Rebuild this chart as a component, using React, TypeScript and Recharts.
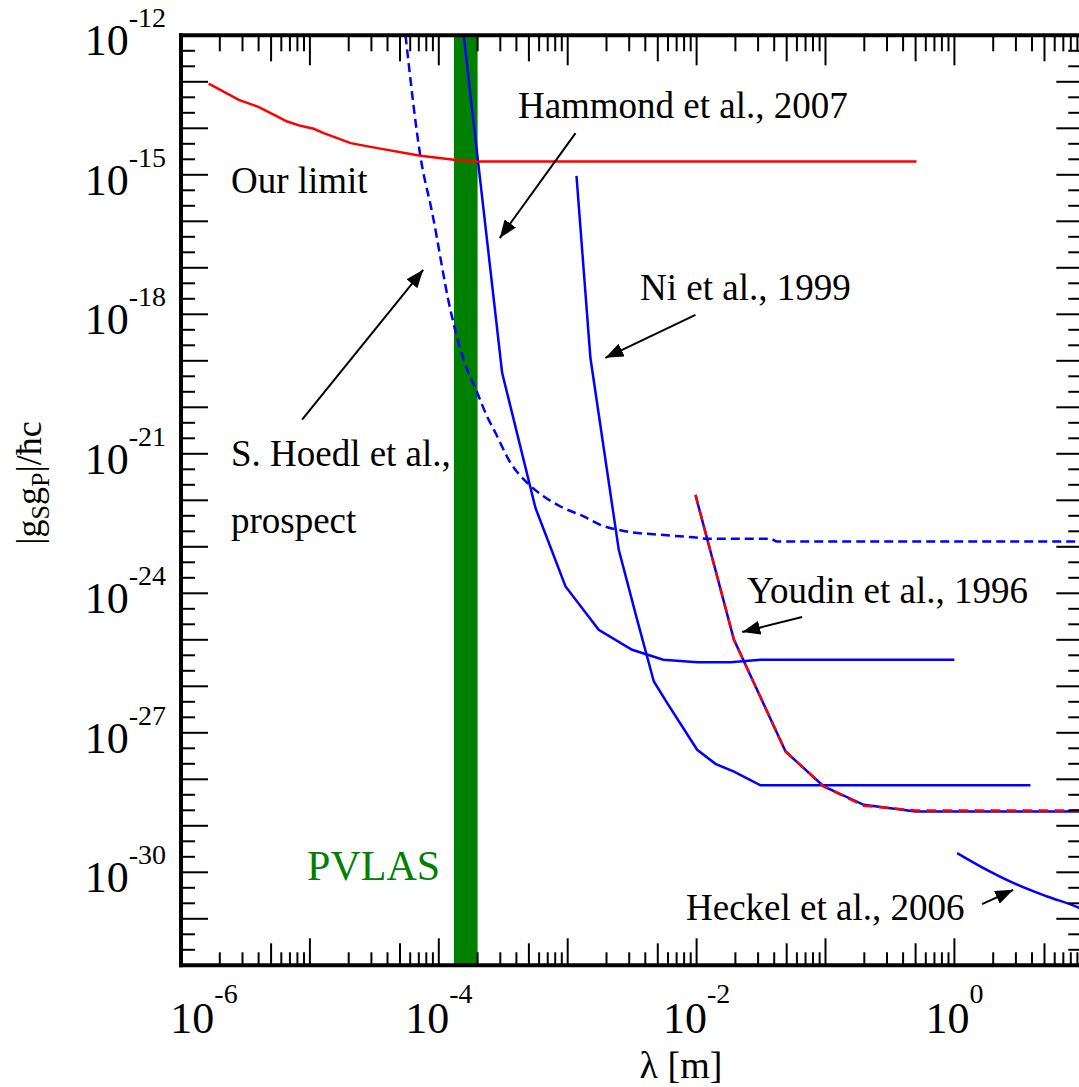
import {
  LineChart,
  Line,
  XAxis,
  YAxis,
  ReferenceArea,
  ReferenceLine,
  ReferenceDot,
} from "recharts";

type Pt = { x: number; y: number };

const SERIF = '"Liberation Serif", "Times New Roman", Times, serif';

// limits, lambda [m] vs |gS gP|/hbar c
const OUR_LIMIT: Pt[] = [
  { x: 1.64e-6, y: 9.1e-14 },
  { x: 2.81e-6, y: 4.1e-14 },
  { x: 4.02e-6, y: 2.86e-14 },
  { x: 6.67e-6, y: 1.4e-14 },
  { x: 8.45e-6, y: 1.13e-14 },
  { x: 1.07e-5, y: 9.75e-15 },
  { x: 1.28e-5, y: 7.9e-15 },
  { x: 2.07e-5, y: 4.8e-15 },
  { x: 3.33e-5, y: 3.75e-15 },
  { x: 7.2e-5, y: 2.56e-15 },
  { x: 1.31e-4, y: 2.1e-15 },
  { x: 1.99e-4, y: 1.93e-15 },
  { x: 0.508, y: 1.93e-15 },
];

const HOEDL: Pt[] = [
  { x: 5.52e-5, y: 1e-12 },
  { x: 7.21e-5, y: 2.44e-15 },
  { x: 8.89e-5, y: 1.52e-16 },
  { x: 1.23e-4, y: 1.25e-18 },
  { x: 1.56e-4, y: 1.05e-19 },
  { x: 1.99e-4, y: 2.05e-20 },
  { x: 2.37e-4, y: 6.34e-21 },
  { x: 2.75e-4, y: 2.83e-21 },
  { x: 3.6e-4, y: 6.4e-22 },
  { x: 4.85e-4, y: 2.38e-22 },
  { x: 6.53e-4, y: 1.21e-22 },
  { x: 8.79e-4, y: 7.36e-23 },
  { x: 1.33e-3, y: 4.49e-23 },
  { x: 1.79e-3, y: 2.97e-23 },
  { x: 2.89e-3, y: 2.13e-23 },
  { x: 5.25e-3, y: 1.81e-23 },
  { x: 9.46e-3, y: 1.6e-23 },
  { x: 1.21e-2, y: 1.49e-23 },
  { x: 3.74e-2, y: 1.49e-23 },
  { x: 4.22e-2, y: 1.3e-23 },
  { x: 10, y: 1.3e-23 },
];

const HAMMOND: Pt[] = [
  { x: 1.56e-4, y: 1e-12 },
  { x: 3.1e-4, y: 5.52e-20 },
  { x: 5.62e-4, y: 6.9e-23 },
  { x: 9.62e-4, y: 1.4e-24 },
  { x: 1.74e-3, y: 1.64e-25 },
  { x: 3.16e-3, y: 6.1e-26 },
  { x: 5.51e-3, y: 3.72e-26 },
  { x: 1.01e-2, y: 3.31e-26 },
  { x: 1.83e-2, y: 3.31e-26 },
  { x: 3.13e-2, y: 3.72e-26 },
  { x: 1.0, y: 3.72e-26 },
];

const NI: Pt[] = [
  { x: 1.17e-3, y: 9.5e-16 },
  { x: 1.5e-3, y: 1.16e-19 },
  { x: 2.49e-3, y: 8.6e-24 },
  { x: 3.46e-3, y: 2.69e-25 },
  { x: 4.66e-3, y: 1.27e-26 },
  { x: 5.92e-3, y: 4.36e-27 },
  { x: 1.01e-2, y: 4.31e-28 },
  { x: 1.4e-2, y: 2.15e-28 },
  { x: 1.95e-2, y: 1.47e-28 },
  { x: 3.13e-2, y: 7.43e-29 },
  { x: 3.89, y: 7.43e-29 },
];

const YOUDIN: Pt[] = [
  { x: 9.8e-3, y: 1.31e-22 },
  { x: 1.95e-2, y: 1.0e-25 },
  { x: 4.9e-2, y: 3.96e-28 },
  { x: 9.7e-2, y: 7.0e-29 },
  { x: 0.198, y: 2.83e-29 },
  { x: 0.499, y: 2.03e-29 },
  { x: 10, y: 2.03e-29 },
];

const YOUDIN_RED: Pt[] = [
  { x: 9.8e-3, y: 1.31e-22 },
  { x: 1.95e-2, y: 1.0e-25 },
  { x: 4.9e-2, y: 3.96e-28 },
  { x: 9.7e-2, y: 7.0e-29 },
  { x: 0.198, y: 2.7e-29 },
  { x: 0.499, y: 2.14e-29 },
  { x: 10, y: 2.14e-29 },
];

const HECKEL: Pt[] = [
  { x: 1.05, y: 2.59e-30 },
  { x: 1.6, y: 1.33e-30 },
  { x: 2.89, y: 5.86e-31 },
  { x: 5.25, y: 3.02e-31 },
  { x: 9.35, y: 1.7e-31 },
  { x: 10, y: 1.55e-31 },
];

const PVLAS_BAND = { x1: 1.31e-4, x2: 2.0e-4 };

const NOTES = [
  { text: "Hammond et al., 2007", x: 4.11e-4, y: 1.67e-14 },
  { text: "Our limit", x: 2.44e-6, y: 4.06e-16 },
  { text: "Ni et al., 1999", x: 3.64e-3, y: 2.03e-18 },
  { text: "S. Hoedl et al.,", x: 2.44e-6, y: 5.47e-22 },
  { text: "prospect", x: 2.44e-6, y: 1.98e-23 },
  { text: "Youdin et al., 1996", x: 2.46e-2, y: 6.18e-25 },
  { text: "Heckel et al., 2006", x: 8.28e-3, y: 9.44e-32 },
];

const PVLAS_NOTE = { text: "PVLAS", x: 9.51e-6, y: 6.84e-31 };

const ARROWS = [
  { from: { x: 1.15e-3, y: 7.9e-15 }, to: { x: 2.97e-4, y: 4.35e-17 } },
  { from: { x: 9.8e-3, y: 9.75e-19 }, to: { x: 1.96e-3, y: 1.16e-19 } },
  { from: { x: 8.7e-6, y: 5.4e-21 }, to: { x: 7.57e-5, y: 9.06e-18 } },
  { from: { x: 6.59e-2, y: 3.08e-25 }, to: { x: 2.26e-2, y: 1.47e-25 } },
  { from: { x: 1.64, y: 2.07e-31 }, to: { x: 2.86, y: 4.2e-31 } },
];

const X_DECADES = [-6, -5, -4, -3, -2, -1, 0];
const X_LABELS = [-6, -4, -2, 0];
const Y_LABELS = [-12, -15, -18, -21, -24, -27, -30];

const xTicks: number[] = [];
X_DECADES.forEach((e) => {
  for (let m = 1; m <= 9; m++) xTicks.push(m * Math.pow(10, e));
});
xTicks.push(10);

const yTicks: number[] = [];
for (let k = 0; k <= 60; k++) yTicks.push(Math.pow(10, -12 - k / 3));

const xInfo = (v: number) => {
  const e = Math.floor(Math.log10(v) + 1e-9);
  const m = Math.round(v / Math.pow(10, e));
  return { e, m };
};

const yInfo = (v: number) => {
  const k = Math.round((-12 - Math.log10(v)) * 3);
  return { decade: k % 3 === 0, exp: -12 - k / 3 };
};

function BottomTick({ x, y, payload }: any) {
  const { e, m } = xInfo(payload.value);
  const len = m === 1 ? 27 : m === 5 ? 22 : 13;
  const label = m === 1 && X_LABELS.includes(e);
  const lx = e === -6 ? x + 23 : x;
  return (
    <g>
      <line x1={x} x2={x} y1={y} y2={y - len} stroke="#000" strokeWidth={2} />
      {label && (
        <text x={lx} y={y + 68} textAnchor="middle" fontFamily={SERIF} fontSize={44} fill="#000">
          10
          <tspan dy={-30} fontSize={28}>
            {e}
          </tspan>
        </text>
      )}
    </g>
  );
}

function TopTick({ x, y, payload }: any) {
  const { m } = xInfo(payload.value);
  const len = m === 1 ? 30 : m === 5 ? 26 : 16;
  return <line x1={x} x2={x} y1={y} y2={y + len} stroke="#000" strokeWidth={2} />;
}

function LeftTick({ x, y, payload }: any) {
  const { decade, exp } = yInfo(payload.value);
  const label = decade && Y_LABELS.includes(exp);
  return (
    <g>
      <line x1={x} x2={x + (decade ? 27 : 14)} y1={y} y2={y} stroke="#000" strokeWidth={2} />
      {label && (
        <text x={x - 15} y={y + 20} textAnchor="end" fontFamily={SERIF} fontSize={44} fill="#000">
          10
          <tspan dy={-28} fontSize={28}>
            {exp}
          </tspan>
        </text>
      )}
    </g>
  );
}

function RightTick({ x, y, payload }: any) {
  const { decade } = yInfo(payload.value);
  return <line x1={x} x2={x - (decade ? 27 : 15)} y1={y} y2={y} stroke="#000" strokeWidth={2} />;
}

const frame = { stroke: "#000", strokeWidth: 4, strokeLinecap: "square" as const };

const lineCommon = {
  dataKey: "y",
  dot: false,
  activeDot: false,
  isAnimationActive: false,
} as const;

export default function App() {
  return (
    <div
      style={{
        position: "absolute",
        left: 0,
        top: 0,
        width: 1079,
        height: 1087,
        overflow: "hidden",
        background: "#fff",
      }}
    >
      <LineChart width={1100} height={1087} margin={{ top: 0, right: 0, bottom: 0, left: 0 }}>
        <defs>
          <marker
            id="arrowHead"
            viewBox="0 0 18 14"
            refX={18}
            refY={7}
            markerWidth={18}
            markerHeight={14}
            markerUnits="userSpaceOnUse"
            orient="auto"
          >
            <path d="M0,0 L18,7 L0,14 z" fill="#000" />
          </marker>
        </defs>

        <XAxis
          dataKey="x"
          type="number"
          scale="log"
          domain={[1e-6, 10]}
          allowDataOverflow
          ticks={xTicks}
          interval={0}
          tickLine={false}
          tickSize={0}
          tickMargin={0}
          axisLine={frame}
          tick={<BottomTick />}
          height={121.7}
        />
        <XAxis
          xAxisId="top"
          orientation="top"
          dataKey="x"
          type="number"
          scale="log"
          domain={[1e-6, 10]}
          allowDataOverflow
          ticks={xTicks}
          interval={0}
          tickLine={false}
          tickSize={0}
          tickMargin={0}
          axisLine={frame}
          tick={<TopTick />}
          height={35.3}
        />
        <YAxis
          type="number"
          scale="log"
          domain={[1e-32, 1e-12]}
          allowDataOverflow
          ticks={yTicks}
          interval={0}
          tickLine={false}
          tickSize={0}
          tickMargin={0}
          axisLine={frame}
          tick={<LeftTick />}
          width={181}
        />
        <YAxis
          yAxisId="right"
          orientation="right"
          type="number"
          scale="log"
          domain={[1e-32, 1e-12]}
          allowDataOverflow
          ticks={yTicks}
          interval={0}
          tickLine={false}
          tickSize={0}
          tickMargin={0}
          axisLine={frame}
          tick={<RightTick />}
          width={16.7}
        />

        <ReferenceArea
          x1={PVLAS_BAND.x1}
          x2={PVLAS_BAND.x2}
          fill="#008000"
          fillOpacity={1}
          stroke="none"
        />

        <Line {...lineCommon} data={HOEDL} type="monotone" stroke="#0000ff" strokeWidth={2.5} strokeDasharray="9 5" />
        <Line {...lineCommon} data={HAMMOND} type="linear" stroke="#0000ff" strokeWidth={2.5} />
        <Line {...lineCommon} data={NI} type="linear" stroke="#0000ff" strokeWidth={2.5} />
        <Line {...lineCommon} data={YOUDIN} type="linear" stroke="#0000ff" strokeWidth={2.5} />
        <Line {...lineCommon} data={YOUDIN_RED} type="linear" stroke="#ff0000" strokeWidth={2.5} strokeDasharray="10 6" />
        <Line {...lineCommon} data={HECKEL} type="monotone" stroke="#0000ff" strokeWidth={2.5} />
        <Line {...lineCommon} data={OUR_LIMIT} type="linear" stroke="#ff0000" strokeWidth={2.5} />

        {ARROWS.map((a, i) => (
          <ReferenceLine
            key={`arrow-${i}`}
            segment={[a.from, a.to]}
            shape={(p: any) => (
              <line
                x1={p.x1}
                y1={p.y1}
                x2={p.x2}
                y2={p.y2}
                stroke="#000"
                strokeWidth={2}
                markerEnd="url(#arrowHead)"
              />
            )}
          />
        ))}

        {NOTES.map((n) => (
          <ReferenceDot
            key={n.text}
            x={n.x}
            y={n.y}
            r={0}
            shape={(p: any) => (
              <text x={p.cx} y={p.cy} fontFamily={SERIF} fontSize={37} fill="#000">
                {n.text}
              </text>
            )}
          />
        ))}
        <ReferenceDot
          x={PVLAS_NOTE.x}
          y={PVLAS_NOTE.y}
          r={0}
          shape={(p: any) => (
            <text x={p.cx} y={p.cy} fontFamily={SERIF} fontSize={42} fill="#008000">
              {PVLAS_NOTE.text}
            </text>
          )}
        />

        <text x={681} y={1078} textAnchor="middle" fontFamily={SERIF} fontSize={38} fill="#000">
          λ [m]
        </text>
        <text
          x={41}
          y={483}
          transform="rotate(-90 41 483)"
          textAnchor="middle"
          fontFamily={SERIF}
          fontSize={36}
          fill="#000"
        >
          |g
          <tspan dy={8} fontSize={26}>
            S
          </tspan>
          <tspan dy={-8}>g</tspan>
          <tspan dy={8} fontSize={26}>
            P
          </tspan>
          <tspan dy={-8}>|/ħc</tspan>
        </text>
      </LineChart>
    </div>
  );
}
